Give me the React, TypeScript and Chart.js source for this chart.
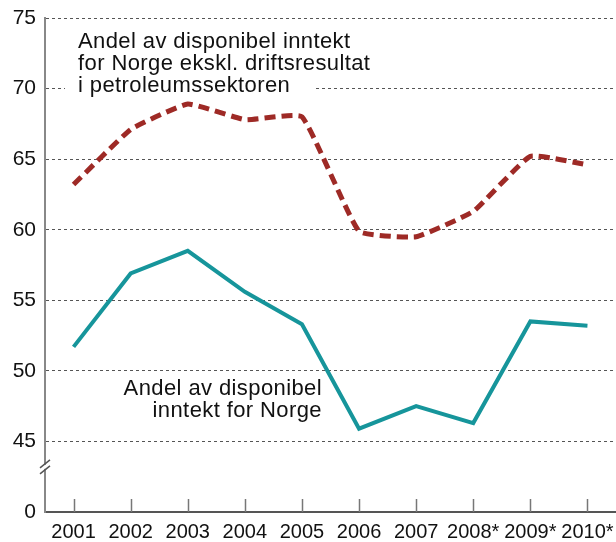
import React, { useEffect, useRef } from 'react';
import { Chart, registerables } from 'chart.js';

Chart.register(...registerables);

const years = ['2001', '2002', '2003', '2004', '2005', '2006', '2007', '2008*', '2009*', '2010*'];
const shareExPetroleum = [63.2, 67.1, 68.9, 67.8, 68.0, 59.9, 59.5, 61.3, 65.2, 64.6];
const shareNorway = [51.7, 56.9, 58.5, 55.6, 53.3, 45.9, 47.5, 46.3, 53.5, 53.2];
const yTickValues = [40, 45, 50, 55, 60, 65, 70, 75];
const yTickLabels = ['0', '45', '50', '55', '60', '65', '70', '75'];
const labelExPetroleum = ['Andel av disponibel inntekt', 'for Norge ekskl. driftsresultat', 'i petroleumssektoren'];
const labelNorway = ['Andel av disponibel', 'inntekt for Norge'];

const FONT = '"Liberation Sans", Arial, Helvetica, sans-serif';
const RED = '#9e2a26';
const TEAL = '#16959b';

const overlayPlugin = {
  id: 'overlay',
  afterDatasetsDraw(chart: any) {
    const { ctx, chartArea, scales } = chart;
    const xs = scales.x;
    const ys = scales.y;
    ctx.save();
    // tick marks pointing up from the x axis
    ctx.strokeStyle = '#777';
    ctx.lineWidth = 1.5;
    for (let i = 0; i < xs.ticks.length; i++) {
      const px = Math.round(xs.getPixelForTick(i)) + 0.5;
      ctx.beginPath();
      ctx.moveTo(px, chartArea.bottom);
      ctx.lineTo(px, chartArea.bottom - 13);
      ctx.stroke();
    }
    // axis break mark
    const bx = chartArea.left;
    const by = ys.getPixelForValue(43.2);
    ctx.fillStyle = '#fff';
    ctx.fillRect(bx - 3, by - 2, 6, 4);
    ctx.strokeStyle = '#555';
    ctx.lineWidth = 1.5;
    ctx.beginPath();
    ctx.moveTo(bx - 5, by + 1);
    ctx.lineTo(bx + 5, by - 7);
    ctx.moveTo(bx - 5, by + 7);
    ctx.lineTo(bx + 5, by - 1);
    ctx.stroke();

    // annotations
    ctx.font = '22px ' + FONT;
    try { (ctx as any).letterSpacing = '0.4px'; } catch (e) {}
    ctx.textBaseline = 'alphabetic';
    ctx.fillStyle = '#fff';
    ctx.fillRect(65, 79, 248, 18);
    ctx.fillStyle = '#111';
    ctx.textAlign = 'left';
    const topBase = [48, 70, 92];
    labelExPetroleum.forEach((t, i) => ctx.fillText(t, 78, topBase[i]));
    ctx.textAlign = 'right';
    const botBase = [395, 417];
    labelNorway.forEach((t, i) => ctx.fillText(t, 322, botBase[i]));
    ctx.restore();
  },
};

export default function App() {
  const ref = useRef<HTMLCanvasElement | null>(null);
  useEffect(() => {
    if (!ref.current) return;
    const chart = new Chart(ref.current, {
      type: 'line',
      data: {
        labels: years,
        datasets: [
          {
            data: shareExPetroleum,
            borderColor: RED,
            borderWidth: 5,
            borderDash: [11, 6],
            tension: 0.12,
            pointRadius: 0,
            fill: false,
          },
          {
            data: shareNorway,
            borderColor: TEAL,
            borderWidth: 4,
            tension: 0,
            pointRadius: 0,
            fill: false,
          },
        ],
      },
      options: {
        animation: false,
        responsive: false,
        devicePixelRatio: 1,
        layout: { padding: { top: 18, right: 0, left: 0, bottom: 0 } },
        plugins: { legend: { display: false }, tooltip: { enabled: false } },
        scales: {
          x: {
            type: 'category',
            offset: true,
            grid: { display: false, drawTicks: false },
            border: { display: true, color: '#555', width: 2 },
            ticks: {
              font: { family: FONT, size: 20 },
              color: '#111',
              padding: 8,
              maxRotation: 0,
              autoSkip: false,
            },
            afterFit: (s: any) => {
              s.height = 30;
              s.paddingLeft = 0;
              s.paddingRight = 0;
            },
          },
          y: {
            type: 'linear',
            min: 40,
            max: 75,
            afterBuildTicks: (s: any) => { s.ticks = yTickValues.map((v) => ({ value: v })); },
            ticks: {
              font: { family: FONT, size: 21 },
              color: '#111',
              padding: 9,
              callback: (v: any) => {
                const i = yTickValues.indexOf(Number(v));
                return i >= 0 ? yTickLabels[i] : '';
              },
            },
            grid: {
              drawTicks: false,
              color: (c: any) => (c.tick && c.tick.value === 40 ? 'rgba(0,0,0,0)' : '#555'),
              lineWidth: 1,
            },
            border: { display: true, color: '#888', width: 2, dash: [3, 3] },
            afterFit: (s: any) => {
              s.width = 45;
              s.paddingTop = 0;
              s.paddingBottom = 0;
            },
          },
        },
      },
      plugins: [overlayPlugin],
    });
    return () => chart.destroy();
  }, []);
  return (
    <div style={{ position: 'fixed', left: 0, top: 0, width: 616, height: 542, background: '#fff' }}>
      <canvas ref={ref} width={616} height={542} />
    </div>
  );
}
